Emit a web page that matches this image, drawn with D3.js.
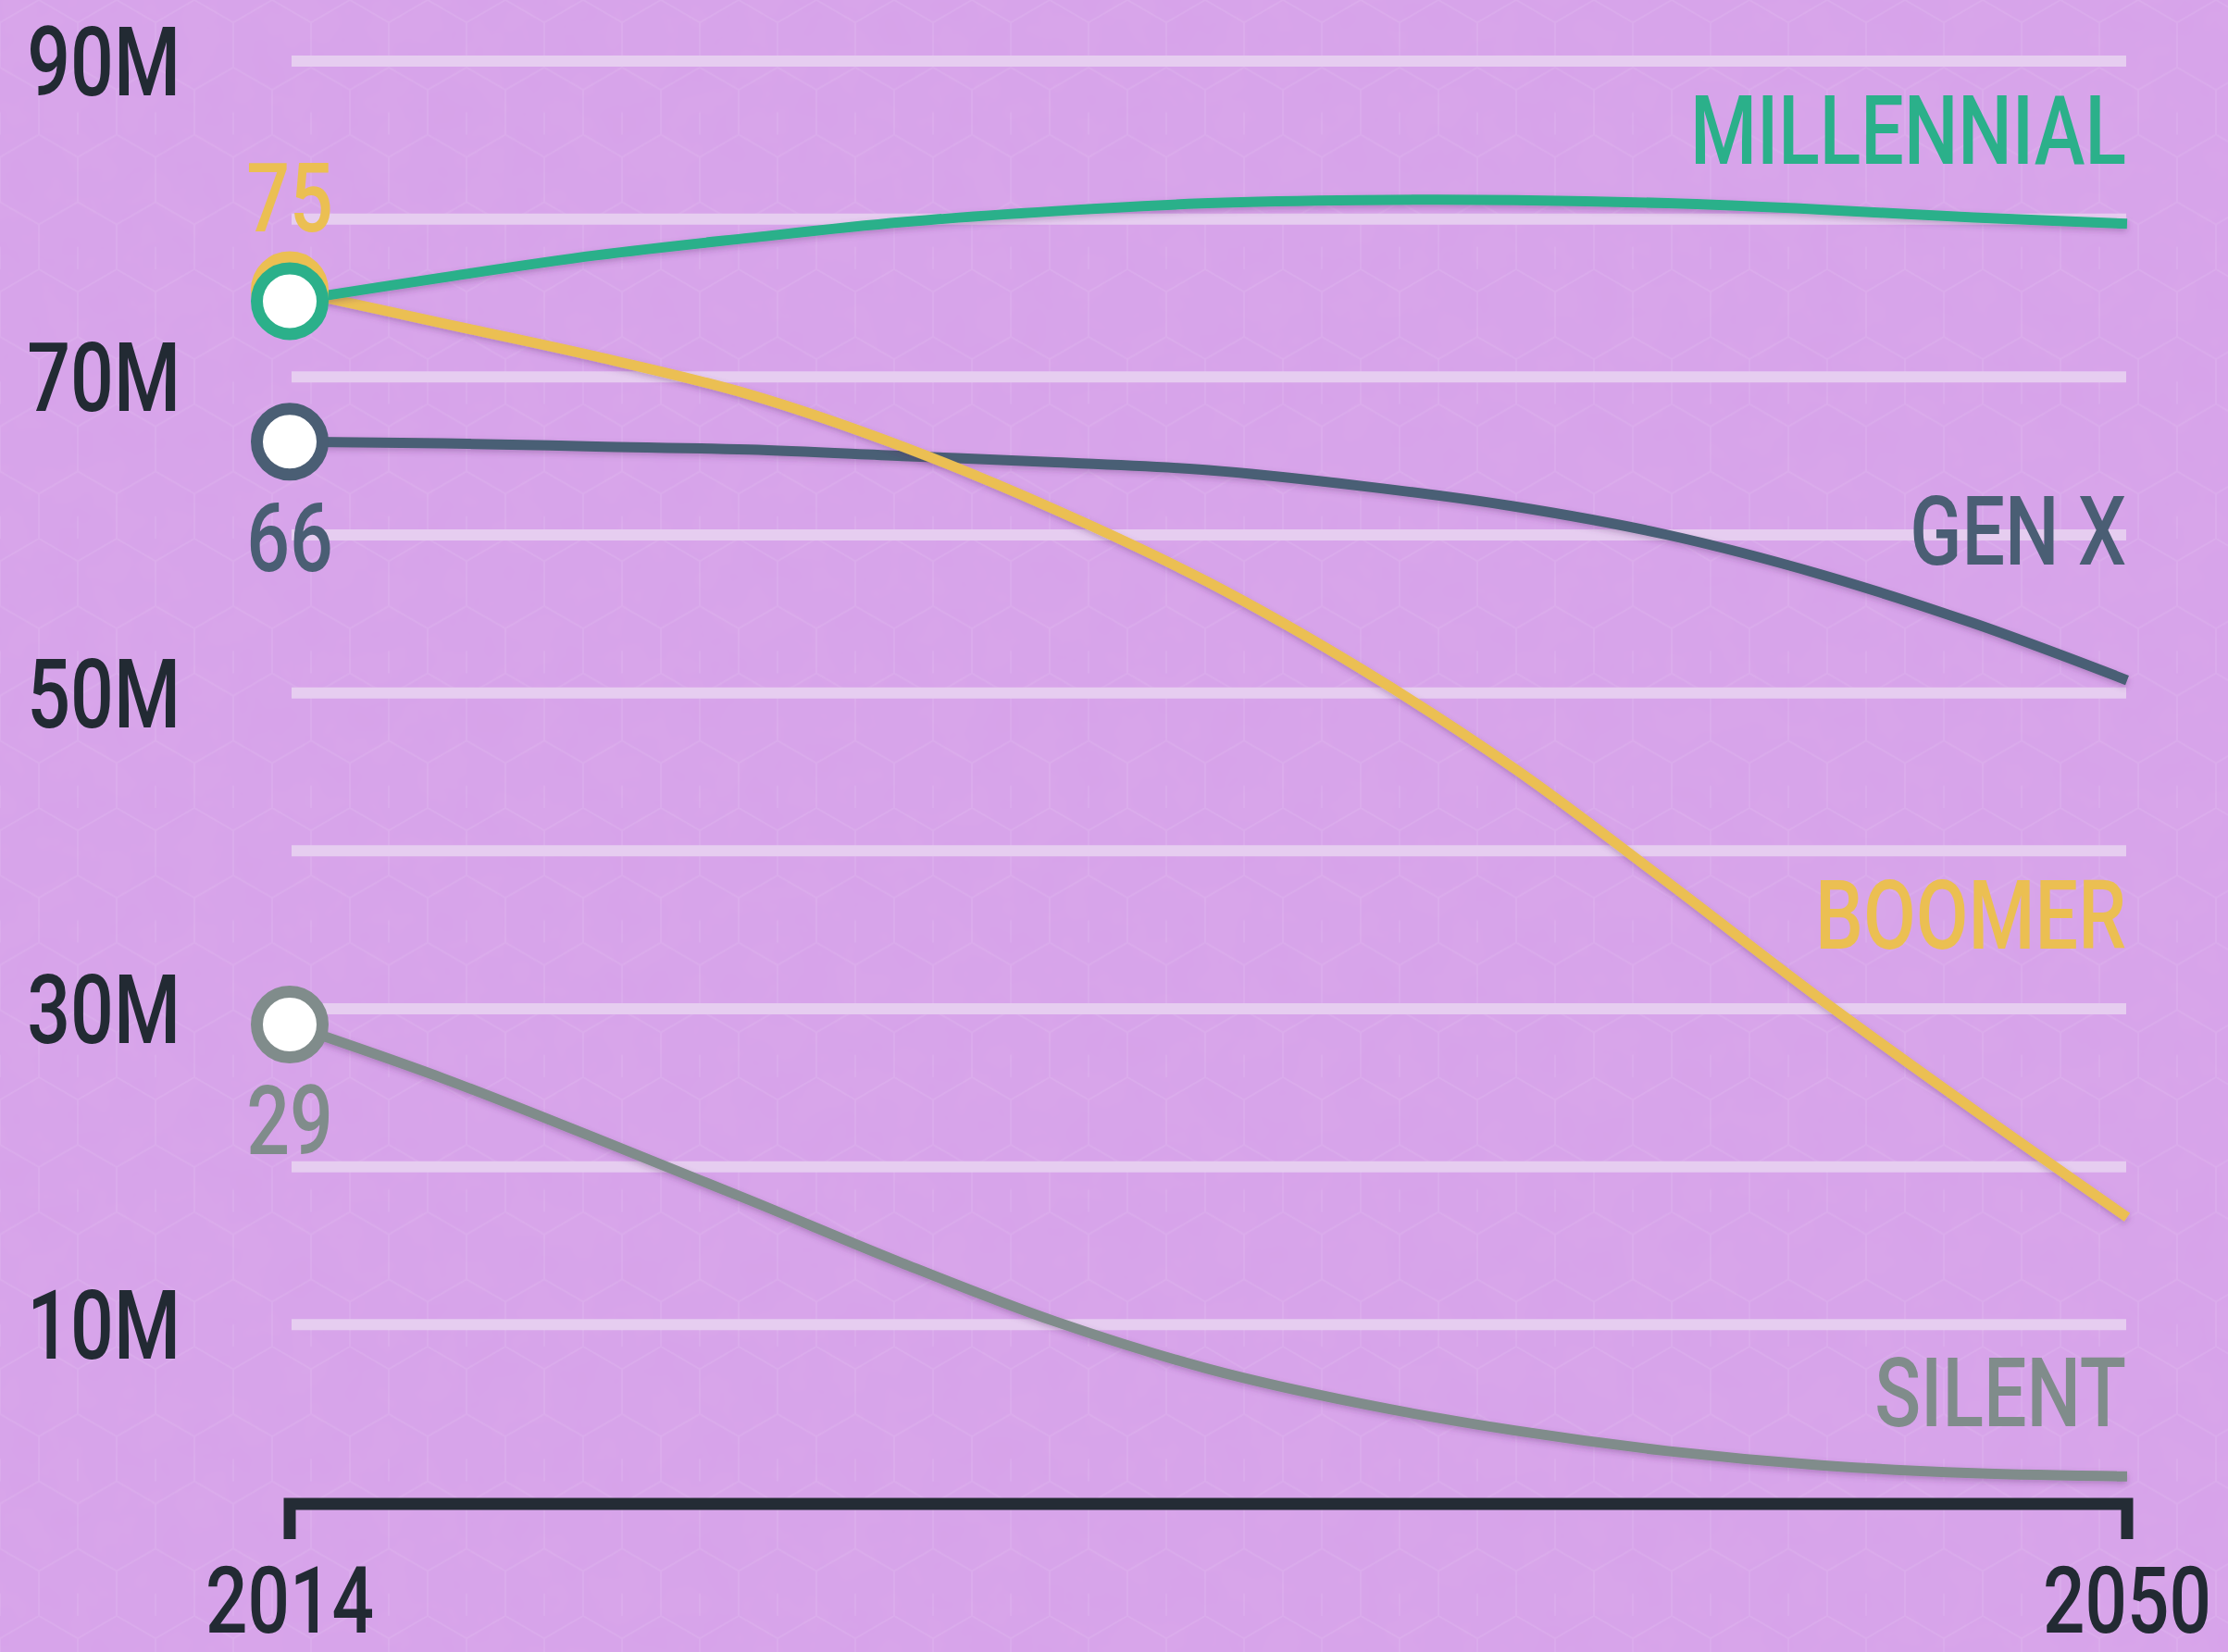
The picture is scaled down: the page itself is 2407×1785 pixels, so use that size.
<!DOCTYPE html>
<html>
<head>
<meta charset="utf-8">
<script src="https://cdn.jsdelivr.net/npm/d3@7"></script>
<style>
  html, body { margin: 0; padding: 0; background: #d6a5e8; }
  svg { display: block; }
  text { font-family: Roboto, "Noto Sans", sans-serif; font-weight: 500; }
</style>
</head>
<body>
<svg id="chart" width="2407" height="1785"></svg>
<script>
// Population by generation, 2014 -> 2050 (millions)
const years = [2014, 2017, 2020, 2023, 2026, 2029, 2032, 2035, 2038, 2041, 2044, 2047, 2050];

const millennial = [74.8, 76.3, 77.7, 78.8, 79.8, 80.5, 81.0, 81.2, 81.2, 81.0, 80.6, 80.1, 79.7];
const genX       = [65.9, 65.8, 65.6, 65.4, 65.0, 64.6, 64.1, 63.1, 61.8, 60.0, 57.5, 54.4, 50.8];
const boomer     = [75.5, 73.4, 71.3, 68.9, 65.6, 61.6, 57.0, 51.5, 45.2, 38.0, 30.6, 23.6, 16.8];
const silent     = [29.0, 25.6, 21.8, 17.9, 13.9, 10.2, 7.2, 5.0, 3.3, 2.0, 1.1, 0.6, 0.4];

const seriesNames  = ["SILENT", "GEN X", "BOOMER", "MILLENNIAL"];
const seriesValues = [silent, genX, boomer, millennial];
const seriesColors = ["#808c8b", "#4a5e74", "#ebbf52", "#2bb08a"];
const nameLabelAt  = [3.6, 58.1, 33.8, 83.5];       // where each series name sits (value units)
const startLabels  = ["29", "66", "75", ""];        // value printed next to the 2014 dot
const startLabelPos = ["below", "below", "above", "none"];

const gridTicks  = [10, 20, 30, 40, 50, 60, 70, 80, 90];
const yTickLabels = [10, 30, 50, 70, 90];
const xTickLabels = [2014, 2050];

const svg = d3.select("#chart"),
    width = +svg.attr("width"),
    height = +svg.attr("height");

const x = d3.scaleLinear().domain([2014, 2050]).range([313, 2298]);
const y = d3.scaleLinear().domain([0, 90]).range([1602, 66]);

const squeeze = 0.8;   // narrow the font to look condensed

// background + subtle texture
const defs = svg.append("defs");
const hex = defs.append("pattern")
    .attr("id", "hex")
    .attr("width", 84).attr("height", 145.5)
    .attr("patternUnits", "userSpaceOnUse");
hex.append("path")
    .attr("d", "M42,0 L84,24.25 L84,72.75 L42,97 L0,72.75 L0,24.25 Z M42,97 L42,145.5 M0,145.5 L0,121.25 M84,121.25 L84,145.5")
    .attr("fill", "none")
    .attr("stroke", "#f3e3fa")
    .attr("stroke-opacity", 0.12)
    .attr("stroke-width", 2);

const noise = defs.append("filter").attr("id", "noise");
noise.append("feTurbulence")
    .attr("type", "fractalNoise").attr("baseFrequency", 0.02).attr("numOctaves", 3).attr("seed", 4);
noise.append("feColorMatrix")
    .attr("values", "0 0 0 0 0.65  0 0 0 0 0.3  0 0 0 0 0.8  0 0 0 0.22 0");

const shadow = defs.append("filter").attr("id", "shadow")
    .attr("x", "-5%").attr("y", "-20%").attr("width", "110%").attr("height", "140%");
shadow.append("feDropShadow")
    .attr("dx", 0).attr("dy", 3).attr("stdDeviation", 3)
    .attr("flood-color", "#5a2a6a").attr("flood-opacity", 0.3);

svg.append("rect").attr("width", width).attr("height", height).attr("fill", "#d8a6ea");
svg.append("rect").attr("width", width).attr("height", height).attr("filter", "url(#noise)");
svg.append("rect").attr("width", width).attr("height", height).attr("fill", "url(#hex)");

// gridlines
svg.append("g")
    .selectAll("line")
    .data(gridTicks)
    .join("line")
    .attr("x1", x(2014) + 2)
    .attr("x2", x(2050) - 1)
    .attr("y1", d => y(d))
    .attr("y2", d => y(d))
    .attr("stroke", "#e6cdf0")
    .attr("stroke-width", 12);

// y tick labels
svg.append("g")
    .selectAll("text")
    .data(yTickLabels)
    .join("text")
    .attr("transform", d => `translate(195,${y(d)}) scale(${squeeze},1)`)
    .attr("dy", "0.36em")
    .attr("text-anchor", "end")
    .attr("font-size", 103)
    .attr("fill", "#222a33")
    .text(d => d + "M");

// x axis: a bracket from 2014 to 2050
svg.append("path")
    .attr("d", `M${x(2014)},1663 V1625 H${x(2050)} V1663`)
    .attr("fill", "none")
    .attr("stroke", "#242c35")
    .attr("stroke-width", 13);

svg.append("g")
    .selectAll("text")
    .data(xTickLabels)
    .join("text")
    .attr("transform", d => `translate(${x(d)},1764) scale(${squeeze},1)`)
    .attr("text-anchor", "middle")
    .attr("font-size", 100)
    .attr("fill", "#222a33")
    .text(d => d);

// lines
const line = d3.line()
    .x((d, i) => x(years[i]))
    .y(d => y(d))
    .curve(d3.curveCatmullRom.alpha(0.5));

svg.append("g")
    .selectAll("path")
    .data(seriesValues)
    .join("path")
    .attr("d", line)
    .attr("fill", "none")
    .attr("stroke", (d, i) => seriesColors[i])
    .attr("stroke-width", 11)
    .attr("filter", "url(#shadow)");

// start dots (boomer drawn before millennial so green sits on top)
svg.append("g")
    .selectAll("circle")
    .data(seriesValues)
    .join("circle")
    .attr("cx", x(2014))
    .attr("cy", d => y(d[0]))
    .attr("r", 35.5)
    .attr("fill", "#ffffff")
    .attr("stroke", (d, i) => seriesColors[i])
    .attr("stroke-width", 13);

// start value labels
svg.append("g")
    .selectAll("text")
    .data(seriesValues)
    .join("text")
    .attr("transform", (d, i) => {
        const cy = y(d[0]);
        const by = startLabelPos[i] === "above" ? cy - 63 : cy + 140;
        return `translate(${x(2014)},${by}) scale(${squeeze},1)`;
    })
    .attr("text-anchor", "middle")
    .attr("font-size", 103)
    .attr("fill", (d, i) => seriesColors[i])
    .text((d, i) => startLabels[i]);

// series names at the right edge
svg.append("g")
    .selectAll("text")
    .data(seriesNames)
    .join("text")
    .attr("transform", (d, i) => `translate(${x(2050) - 1},${y(nameLabelAt[i])}) scale(${squeeze},1)`)
    .attr("text-anchor", "end")
    .attr("font-size", 103)
    .attr("fill", (d, i) => seriesColors[i])
    .text(d => d);
</script>
</body>
</html>
